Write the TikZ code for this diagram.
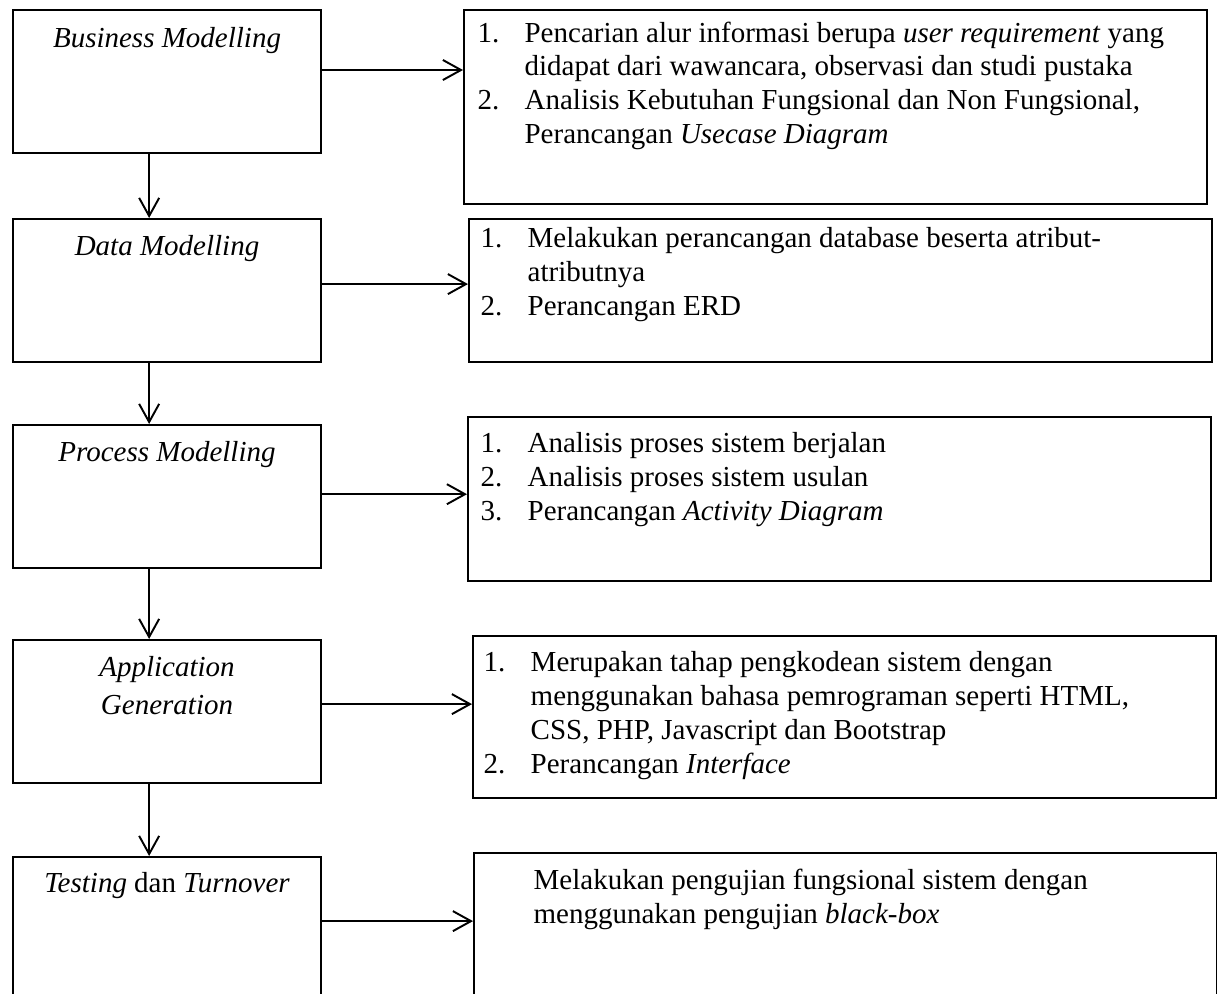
\documentclass[tikz,border=0pt]{standalone}
\usepackage{fontspec}
\setmainfont{Liberation Serif}
\usetikzlibrary{arrows.meta}

\newcommand{\steplist}[1]{\begin{tabular}[t]{@{}p{19.5pt}@{}l@{}}#1\end{tabular}}
\newcommand{\stagename}[1]{\begin{tabular}[t]{@{}c@{}}#1\end{tabular}}

\tikzset{
  stage/.style={draw, line width=0.9pt, anchor=north west, minimum width=127.4pt, minimum height=59.2pt, inner sep=0pt},
  result/.style={stage, minimum width=307.5pt},
  stagetext/.style={anchor=base, inner sep=0pt},
  resulttext/.style={anchor=base west, inner sep=0pt},
  arr/.style={line width=0.8pt, -{Straight Barb[length=7.5pt,width=8.3pt]}}
}

\begin{document}
\begin{tikzpicture}[x=0.4138pt, y=-0.4138pt, font=\fontsize{12}{14}\selectfont]
\clip (0,0) rectangle (1217,994);

% kotak tahapan
\node[stage] (bm) at (12,9) {};
\node[stage] (dm) at (12,218) {};
\node[stage] (pm) at (12,424) {};
\node[stage] (ag) at (12,639) {};
\node[stage] (tt) at (12,856) {};

% kotak keterangan
\node[result, minimum height=80.3pt] (bmk) at (463,9) {};
\node[result] (dmk) at (468,218) {};
\node[result, minimum height=67.9pt] (pmk) at (467,416) {};
\node[result, minimum height=67pt] (agk) at (472,635) {};
\node[result, minimum height=66pt] (ttk) at (473,852) {};

% nama tahapan
\node[stagetext] (bmt) at ([yshift=-16pt]bm.north) {\textit{Business Modelling}};
\node[stagetext] (dmt) at ([yshift=-15.7pt]dm.north) {\textit{Data Modelling}};
\node[stagetext] (pmt) at ([yshift=-15.7pt]pm.north) {\textit{Process Modelling}};
\node[stagetext] (agt) at ([yshift=-15.7pt]ag.north) {\stagename{\textit{Application}\\[1.7pt]\textit{Generation}}};
\node[stagetext] (ttt) at ([yshift=-15pt]tt.north) {\textit{Testing} dan \textit{Turnover}};

% isi keterangan
\node[resulttext] (bmkt) at ([xshift=5.8pt, yshift=-13.7pt]bmk.north west) {\steplist{
  1. & Pencarian alur informasi berupa \textit{user requirement} yang\\
     & didapat dari wawancara, observasi dan studi pustaka\\
  2. & Analisis Kebutuhan Fungsional dan Non Fungsional,\\
     & Perancangan \textit{Usecase Diagram}}};
\node[resulttext] (dmkt) at ([xshift=5pt, yshift=-12.4pt]dmk.north west) {\steplist{
  1. & Melakukan perancangan database beserta atribut-\\
     & atributnya\\
  2. & Perancangan ERD}};
\node[resulttext] (pmkt) at ([xshift=5.4pt, yshift=-15.3pt]pmk.north west) {\steplist{
  1. & Analisis proses sistem berjalan\\
  2. & Analisis proses sistem usulan\\
  3. & Perancangan \textit{Activity Diagram}}};
\node[resulttext] (agkt) at ([xshift=4.6pt, yshift=-15.3pt]agk.north west) {\steplist{
  1. & Merupakan tahap pengkodean sistem dengan\\
     & menggunakan bahasa pemrograman seperti HTML,\\
     & CSS, PHP, Javascript dan Bootstrap\\
  2. & Perancangan \textit{Interface}}};
\node[resulttext] (ttkt) at ([xshift=5.4pt, yshift=-15.7pt]ttk.north west) {\steplist{
     & Melakukan pengujian fungsional sistem dengan\\
     & menggunakan pengujian \textit{black-box}}};

% panah
\foreach \a/\b in {bm/dm, dm/pm, pm/ag, ag/tt}
  \draw[arr] ([xshift=-7.4pt]\a.south) -- ([xshift=-7.4pt]\b.north);
\foreach \a/\b/\s in {bm/bmk/4.8pt, dm/dmk/2.7pt, pm/pmk/1pt, ag/agk/3.1pt, tt/ttk/3.1pt}
  \draw[arr] ([yshift=\s]\a.east) coordinate (o\a) -- (o\a -| \b.west);
\end{tikzpicture}
\end{document}
